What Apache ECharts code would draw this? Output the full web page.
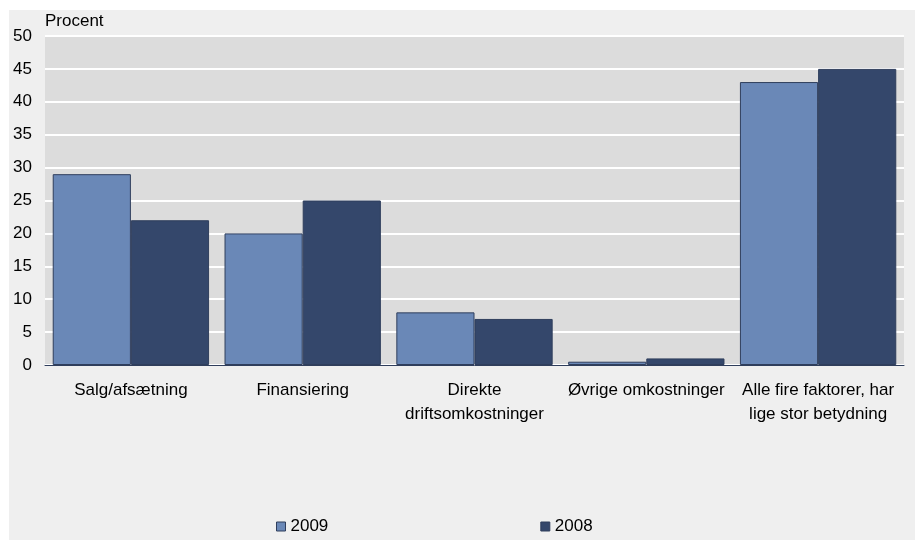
<!DOCTYPE html>
<html>
<head>
<meta charset="utf-8">
<script src="https://cdn.jsdelivr.net/npm/echarts@6/dist/echarts.min.js"></script>
<style>
  html, body { margin: 0; padding: 0; background: #fff; }
  #chart { width: 915px; height: 540px; }
</style>
</head>
<body>
<div id="chart"></div>
<script>
const categories = [
    'Salg/afsætning',
    'Finansiering',
    'Direkte\ndriftsomkostninger',
    'Øvrige omkostninger',
    'Alle fire faktorer, har\nlige stor betydning'
];
const values2009 = [29, 20, 8, 0.5, 43];
const values2008 = [22, 25, 7, 1, 45];
const yTicks = { min: 0, max: 50, interval: 5 };

const font = 'Liberation Sans, Arial, sans-serif';

function init() {
    const chart = echarts.init(document.getElementById('chart'), null, { renderer: 'canvas' });
    const option = {
        backgroundColor: '#ffffff',
        animation: false,
        textStyle: { fontFamily: font },
        graphic: [{
            type: 'rect',
            z: -10,
            shape: { x: 9, y: 10, width: 906, height: 530 },
            style: { fill: '#efefef' }
        }],
        grid: {
            left: 45,
            right: 11,
            top: 36,
            bottom: 175,
            show: true,
            backgroundColor: '#dcdcdc',
            borderWidth: 0
        },
        legend: {
            top: 513,
            left: 271,
            itemGap: 212,
            itemWidth: 9,
            itemHeight: 9,
            itemStyle: { borderColor: '#2f3e5c', borderWidth: 1 },
            icon: 'rect',
            textStyle: { fontSize: 17, color: '#000', fontFamily: font },
            data: ['2009', '2008']
        },
        xAxis: {
            type: 'category',
            data: categories,
            axisLine: { lineStyle: { color: '#2f3e5c', width: 1 } },
            axisTick: { show: false },
            axisLabel: {
                color: '#000',
                fontSize: 17,
                lineHeight: 24,
                margin: 13,
                interval: 0,
                fontFamily: font
            }
        },
        yAxis: {
            type: 'value',
            min: yTicks.min,
            max: yTicks.max,
            interval: yTicks.interval,
            name: 'Procent',
            nameLocation: 'end',
            nameGap: 6,
            nameTextStyle: { color: '#000', fontSize: 17, align: 'left', fontFamily: font },
            axisLine: { show: false },
            axisTick: { show: false },
            axisLabel: { color: '#000', fontSize: 17, margin: 13, fontFamily: font },
            splitLine: { lineStyle: { color: '#ffffff', width: 2 } }
        },
        series: [{
            name: '2009',
            type: 'bar',
            data: values2009,
            barGap: '0%',
            barCategoryGap: '9%',
            itemStyle: { color: '#6a88b7', borderColor: '#2f3e5c', borderWidth: 1 }
        }, {
            name: '2008',
            type: 'bar',
            data: values2008,
            itemStyle: { color: '#34476b', borderColor: '#2f3e5c', borderWidth: 1 }
        }]
    };
    chart.setOption(option);
}

init();
</script>
</body>
</html>
